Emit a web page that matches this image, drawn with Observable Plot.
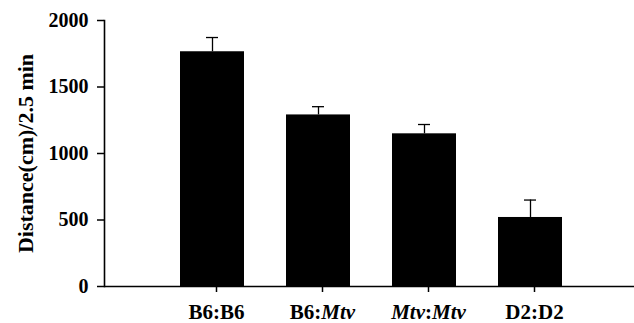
<!DOCTYPE html>
<html><head><meta charset="utf-8">
<script src="https://cdn.jsdelivr.net/npm/d3@7"></script>
<script src="https://cdn.jsdelivr.net/npm/@observablehq/plot@0.6"></script>
<style>body{margin:0;background:#fff}</style>
</head><body><div id="chart"></div>
<script>
const categories = ["B6:B6", "B6:Mtv", "Mtv:Mtv", "D2:D2"];
const means = [1765, 1290, 1148, 519];
const upperErrors = [1872, 1352, 1218, 650];
const yTicks = [0, 500, 1000, 1500, 2000];
const italicWord = "Mtv";
const yTitle = "Distance(cm)/2.5 min";

const data = categories.map((c, i) => ({group: c, mean: means[i], upper: upperErrors[i]}));
const font = "'Liberation Serif','Times New Roman',serif";

const chart = Plot.plot({
  width: 634, height: 323,
  marginLeft: 104, marginRight: 0, marginTop: 20, marginBottom: 37,
  style: {fontFamily: font, fontWeight: "bold", fontSize: "20px", color: "#000", background: "#fff"},
  x: {domain: categories, range: [157.5, 583.5], paddingInner: 0.4, paddingOuter: 0.2, label: null},
  y: {domain: [0, 2000], label: null},
  marks: [
    Plot.barY(data, {x: "group", y: "mean", fill: "#000"}),
    Plot.ruleX(data, {x: "group", y1: "mean", y2: "upper", stroke: "#000", strokeWidth: 1.3}),
    Plot.tickY(data, {x: "group", y: "upper", stroke: "#000", strokeWidth: 1.3, insetLeft: 26, insetRight: 26}),
    Plot.ruleY([0], {stroke: "#000", strokeWidth: 1.6}),
    Plot.frame({anchor: "left", stroke: "#000", strokeWidth: 1.6}),
    Plot.axisY({ticks: yTicks, tickSize: 7, tickPadding: 9, tickFormat: d => String(d), fontSize: 20, label: null, strokeWidth: 1.5}),
    Plot.axisX({tickSize: 6, tickPadding: 12, fontSize: 21, dx: 4, label: null, strokeWidth: 1.5}),
    Plot.text([yTitle], {frameAnchor: "left", textAnchor: "middle", rotate: -90, dx: -79, fontSize: 22, fontWeight: "bold", fill: "#000"})
  ]
});

// italicize the strain name inside the x tick labels
chart.querySelectorAll('g[aria-label="x-axis tick label"] text').forEach(t => {
  const s = t.textContent;
  if (!s.includes(italicWord)) return;
  t.textContent = "";
  s.split(/(Mtv)/).filter(p => p).forEach(p => {
    const ts = document.createElementNS("http://www.w3.org/2000/svg", "tspan");
    ts.textContent = p;
    if (p === italicWord) ts.setAttribute("font-style", "italic");
    t.appendChild(ts);
  });
});

document.getElementById("chart").appendChild(chart);
</script>
</body></html>
